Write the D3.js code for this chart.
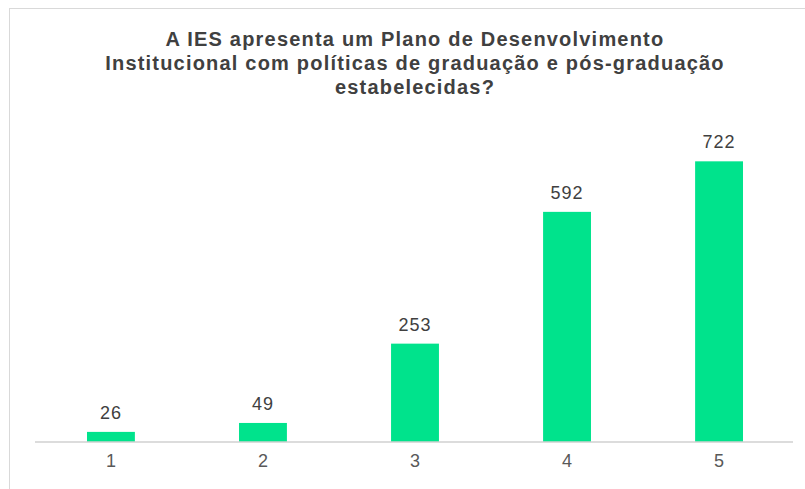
<!DOCTYPE html>
<html>
<head>
    <meta charset="utf-8">
    <title>PDI</title>
    <script src="https://cdn.jsdelivr.net/npm/d3@7"></script>
    <style>
        body { margin: 0; background: #fff; }
        text { font-family: "Liberation Sans", Arial, sans-serif; }
    </style>
</head>
<body>
    <script>
        const width = 805;
        const height = 489;

        const categories = ["1", "2", "3", "4", "5"];
        const values = [26, 49, 253, 592, 722];
        const titleLines = [
            "A IES apresenta um Plano de Desenvolvimento",
            "Institucional com políticas de graduação e pós-graduação",
            "estabelecidas?"
        ];

        const svg = d3.select("body").append("svg")
            .attr("width", width)
            .attr("height", height);

        // chart frame (cut off at right and bottom)
        svg.append("rect")
            .attr("x", 9.5).attr("y", 8.5)
            .attr("width", width).attr("height", height)
            .attr("fill", "none")
            .attr("stroke", "#d9d9d9");

        let x = d3.scaleBand()
            .domain(categories)
            .range([35, 795])
            .paddingInner(0.685)
            .paddingOuter(0.342);

        let y = d3.scaleLinear()
            .domain([0, 800])
            .range([442, 131]);

        svg.append("g")
            .selectAll("text")
            .data(titleLines)
            .enter()
            .append("text")
            .attr("x", 415)
            .attr("y", (d, i) => 46 + i * 24)
            .attr("text-anchor", "middle")
            .attr("font-size", 20)
            .attr("letter-spacing", 1.2)
            .attr("font-weight", "bold")
            .attr("fill", "#404040")
            .text(d => d);

        svg.append("g")
            .selectAll("rect")
            .data(values)
            .enter()
            .append("rect")
            .attr("x", (d, i) => x(categories[i]))
            .attr("y", d => y(d))
            .attr("width", x.bandwidth())
            .attr("height", d => y(0) - y(d))
            .attr("fill", "#00e38c");

        svg.append("g")
            .selectAll("text")
            .data(values)
            .enter()
            .append("text")
            .attr("x", (d, i) => x(categories[i]) + x.bandwidth() / 2)
            .attr("y", d => y(d) - 13)
            .attr("text-anchor", "middle")
            .attr("font-size", 18)
            .attr("letter-spacing", 1)
            .attr("fill", "#404040")
            .text(d => d);

        const gx = svg.append("g")
            .attr("transform", `translate(0,${y(0)})`)
            .call(d3.axisBottom(x).tickSize(0).tickPadding(12));
        gx.select(".domain").attr("stroke", "#d0d0d0").attr("stroke-width", 1.5)
            .attr("d", "M35,0H793");
        gx.selectAll("text")
            .attr("font-size", 18)
            .attr("font-family", "Liberation Sans, Arial, sans-serif")
            .attr("fill", "#595959");
    </script>
</body>
</html>
